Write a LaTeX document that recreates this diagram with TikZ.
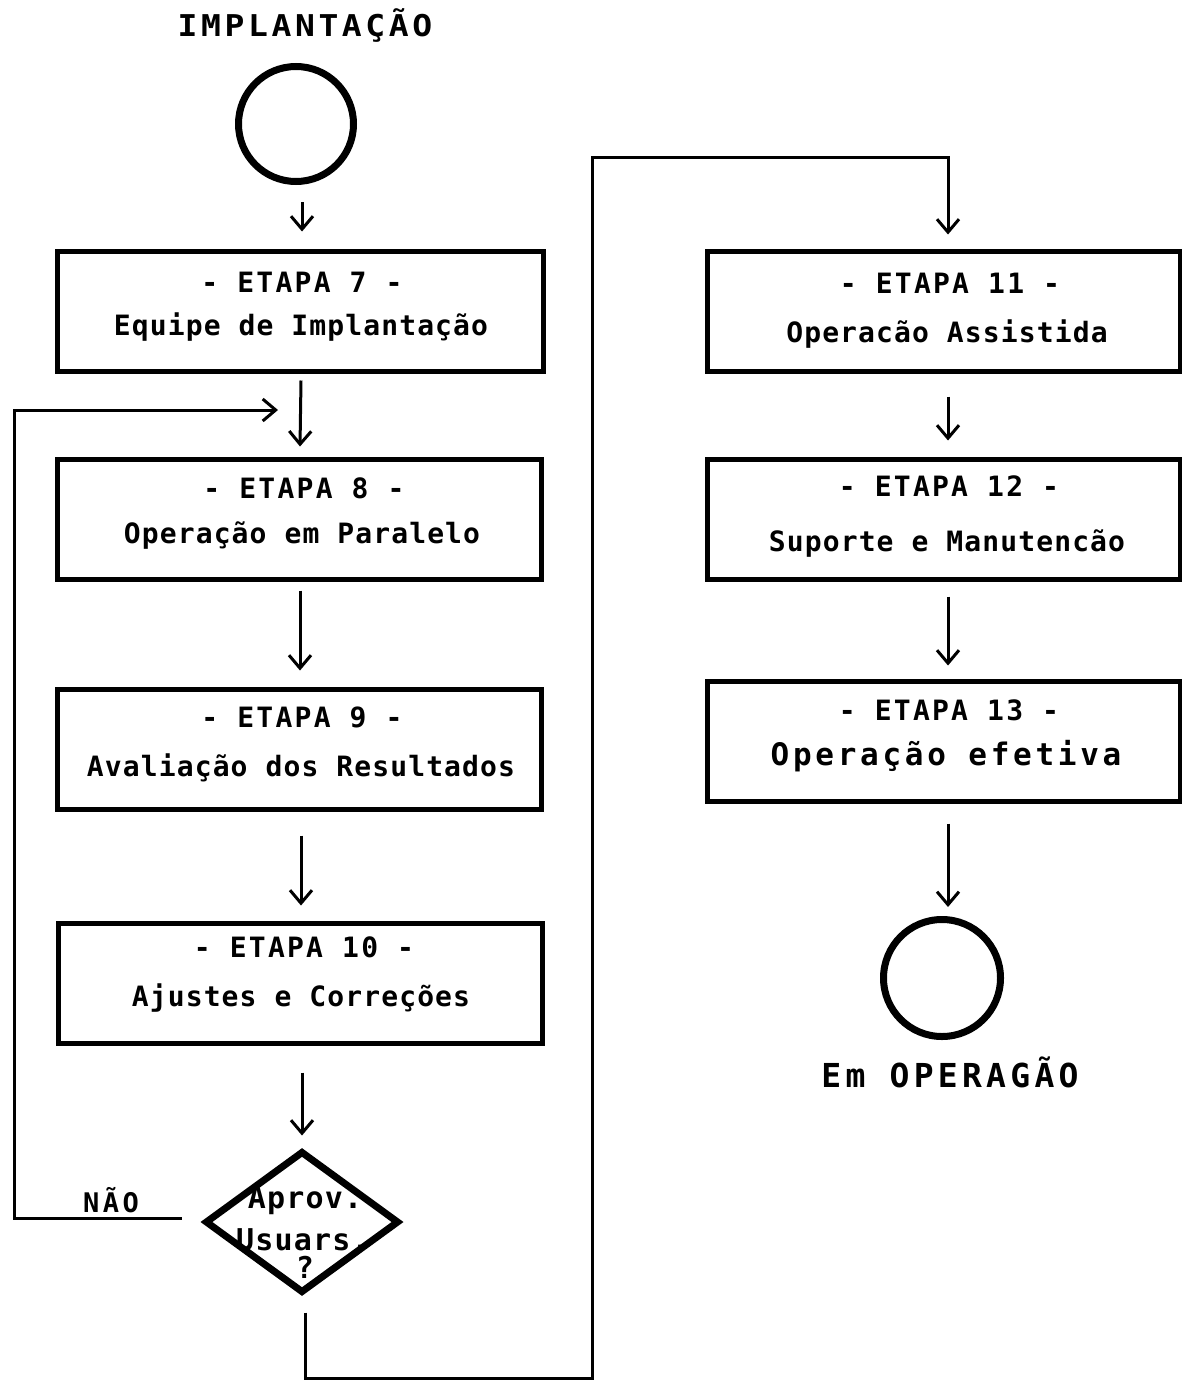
\documentclass[tikz,border=0pt]{standalone}
\usepackage{fontspec}
\usetikzlibrary{arrows.meta,shapes.geometric}
% plotter-like lettering
\newfontfamily\plotfont[LetterSpace=4]{DejaVu Sans Mono}
\newfontfamily\plotdash[LetterSpace=8]{DejaVu Sans Mono}
\newfontfamily\plotbig[LetterSpace=12]{DejaVu Sans Mono}
\newfontfamily\plotwide[FakeStretch=1.1,LetterSpace=12]{DejaVu Sans Mono}
\newfontfamily\plotend[LetterSpace=13]{DejaVu Sans Mono}
\begin{document}
\begin{tikzpicture}[x=1pt,y=-1pt,
  stagebox/.style={draw,line width=5pt,minimum width=#1,minimum height=120pt,inner sep=0pt},
  terminal/.style={draw,circle,line width=7pt,minimum size=#1,inner sep=0pt},
  decision/.style={draw,diamond,line width=7pt,minimum width=194pt,minimum height=142pt,inner sep=0pt},
  headtxt/.style={anchor=base,inner sep=0pt,font=\plotdash\bfseries\fontsize{28}{30}\selectfont},
  bodytxt/.style={anchor=base,inner sep=0pt,font=\plotfont\bfseries\fontsize{28}{30}\selectfont},
  asktxt/.style={anchor=base,inner sep=0pt,font=\plotfont\bfseries\fontsize{30}{32}\selectfont},
  bigtxt/.style={anchor=base,inner sep=0pt,font=\plotbig\bfseries\fontsize{31}{33}\selectfont},
  arr/.style={line width=3pt,-{Straight Barb[length=13pt,width=22pt]}}]
\useasboundingbox (0,0) rectangle (1182,1381);

% start terminal
\node[anchor=base,inner sep=0pt,font=\plotwide\bfseries\fontsize{30}{32}\selectfont] (ttop) at (305,37) {IMPLANTAÇÃO};
\node[terminal=115pt] (c1) at (296,124) {};

% left column of stages
\node[stagebox=486pt] (b7) at (300,311) {};
\node[headtxt] (b7a) at (302,292) {- ETAPA 7 -};
\node[bodytxt] (b7b) at (301,335) {Equipe de Implantação};

\node[stagebox=484pt] (b8) at (299,519) {};
\node[headtxt] (b8a) at (304,498) {- ETAPA 8 -};
\node[bodytxt] (b8b) at (302,543) {Operação em Paralelo};

\node[stagebox=484pt] (b9) at (299,749) {};
\node[headtxt] (b9a) at (302,727) {- ETAPA 9 -};
\node[bodytxt] (b9b) at (301,776) {Avaliação dos Resultados};

\node[stagebox=484pt] (b10) at (300,983) {};
\node[headtxt] (b10a) at (304,957) {- ETAPA 10 -};
\node[bodytxt] (b10b) at (301,1006) {Ajustes e Correções};

% decision
\node[decision] (dia) at (302,1222) {};
\node[asktxt] (dq1) at (305,1208) {Aprov.};
\node[asktxt] (dq2) at (303,1250) {Usuars.};
\node[asktxt] (dq3) at (305,1278) {?};
\node[anchor=base,inner sep=0pt,font=\plotend\bfseries\fontsize{27}{29}\selectfont] (nao) at (111,1212) {NÃO};

% right column of stages
\node[stagebox=473pt] (b11) at (943.5,311) {};
\node[headtxt] (b11a) at (950,293) {- ETAPA 11 -};
\node[bodytxt] (b11b) at (947,342) {Operacão Assistida};

\node[stagebox=473pt] (b12) at (943.5,519) {};
\node[headtxt] (b12a) at (949,496) {- ETAPA 12 -};
\node[bodytxt] (b12b) at (947,551) {Suporte e Manutencão};

\node[stagebox=473pt] (b13) at (943.5,741) {};
\node[headtxt] (b13a) at (949,720) {- ETAPA 13 -};
\node[bigtxt] (b13b) at (946,765) {Operação efetiva};

% end terminal
\node[terminal=117pt] (c2) at (942,978) {};
\node[anchor=base,inner sep=0pt,font=\plotend\bfseries\fontsize{33}{35}\selectfont] (tend) at (950,1087) {Em OPERAGÃO};

% flow arrows, left column
\draw[arr] ([xshift=6pt,yshift=-17pt]c1.south) -- ([xshift=2pt,yshift=17pt]b7.north);
\draw[arr] ([xshift=1pt,yshift=-7pt]b7.south) -- ([xshift=1pt,yshift=10pt]b8.north);
\draw[arr] ([xshift=1pt,yshift=-9pt]b8.south) -- ([xshift=1pt,yshift=16pt]b9.north);
\draw[arr] ([xshift=2pt,yshift=-24pt]b9.south) -- ([xshift=1pt,yshift=15pt]b10.north);
\draw[arr] ([xshift=2pt,yshift=-27pt]b10.south) -- ([yshift=12pt]dia.north);

% rejection loop back to stage 8
\coordinate (loopend) at (278,410);
\draw[arr] ([xshift=-20pt,yshift=4pt]dia.west) -| (14,410) -- (loopend);

% approval path to stage 11
\draw[arr] ([xshift=3pt,yshift=-16pt]dia.south) |- (592,1378) -- (592,157)
  -| ([xshift=4.5pt,yshift=14pt]b11.north);

% flow arrows, right column
\draw[arr] ([xshift=4.5pt,yshift=-23pt]b11.south) -- ([xshift=4.5pt,yshift=16pt]b12.north);
\draw[arr] ([xshift=4.5pt,yshift=-15pt]b12.south) -- ([xshift=4.5pt,yshift=13pt]b13.north);
\draw[arr] ([xshift=4.5pt,yshift=-20pt]b13.south) -- ([xshift=6pt,yshift=9pt]c2.north);
\end{tikzpicture}
\end{document}
